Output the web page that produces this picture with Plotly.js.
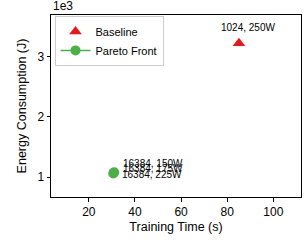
<!DOCTYPE html>
<html>
<head>
<meta charset="utf-8">
<script src="https://cdn.plot.ly/plotly-3.0.1.min.js"></script>
<style>html,body{margin:0;padding:0;background:#fff;}#chart{width:306px;height:244px;}</style>
</head>
<body>
<div id="chart"></div>
<script>
// Data
const baselineTime = [85.1];
const baselineEnergy = [3220];
const baselineLabels = ['1024, 250W'];

const paretoTime = [31.0, 30.8, 30.6];
const paretoEnergy = [1080, 1070, 1060];
const paretoLabels = ['16384, 150W', '16384, 175W', '16384, 225W'];

const xTickVals = [20, 40, 60, 80, 100];
const yTickVals = [1000, 2000, 3000];
const yTickText = ['1', '2', '3'];

// Styles (label offsets in px)
const baselineShift = [{x: 9, y: 16}];
const paretoShift = [{x: 7, y: 9}, {x: 7, y: 4}, {x: 7, y: -1}];

const FONT = 'Liberation Sans, Arial, sans-serif';
const RED = '#e41a1c';
const GREEN = '#4daf4a';

const traces = [
  {
    x: baselineTime, y: baselineEnergy, type: 'scatter', mode: 'markers',
    name: 'Baseline',
    marker: {symbol: 'triangle-up', size: 11, color: RED}
  },
  {
    x: paretoTime, y: paretoEnergy, type: 'scatter', mode: 'lines+markers',
    name: 'Pareto Front',
    line: {color: GREEN, width: 1.5},
    marker: {symbol: 'circle', size: 10, color: GREEN}
  }
];

const annotations = [];
baselineLabels.forEach((t, i) => annotations.push({
  x: baselineTime[i], y: baselineEnergy[i], xref: 'x', yref: 'y', text: t,
  showarrow: false, xanchor: 'center', yanchor: 'middle',
  xshift: baselineShift[i].x, yshift: baselineShift[i].y,
  font: {family: FONT, size: 10, color: '#000'}
}));
paretoLabels.forEach((t, i) => annotations.push({
  x: paretoTime[i], y: paretoEnergy[i], xref: 'x', yref: 'y', text: t,
  showarrow: false, xanchor: 'left', yanchor: 'middle',
  xshift: paretoShift[i].x, yshift: paretoShift[i].y,
  font: {family: FONT, size: 10, color: '#000'}
}));
annotations.push({
  x: 0, y: 1, xref: 'paper', yref: 'paper', text: '1e3', showarrow: false,
  xanchor: 'left', yanchor: 'bottom', yshift: 0,
  font: {family: FONT, size: 12, color: '#000'}
});

const axisCommon = {
  showline: true, linecolor: '#000', linewidth: 1, mirror: true,
  ticks: 'outside', ticklen: 3.5, tickwidth: 1, tickcolor: '#000',
  showgrid: false, zeroline: false,
  tickfont: {family: FONT, size: 12, color: '#000'}
};

const layout = {
  width: 306, height: 244,
  margin: {l: 51, r: 5, t: 15, b: 47},
  paper_bgcolor: '#fff', plot_bgcolor: '#fff',
  font: {family: FONT, color: '#000'},
  showlegend: true,
  legend: {
    x: 0.014, y: 0.995, xanchor: 'left', yanchor: 'top',
    bgcolor: '#fff', bordercolor: '#cccccc', borderwidth: 1,
    font: {family: FONT, size: 11, color: '#000'},
    tracegroupgap: 0, itemwidth: 30
  },
  xaxis: Object.assign({}, axisCommon, {
    range: [3.6, 112], tickvals: xTickVals,
    title: {text: 'Training Time (s)', font: {family: FONT, size: 12.5, color: '#000'}, standoff: 4}
  }),
  yaxis: Object.assign({}, axisCommon, {
    range: [670, 3690], tickvals: yTickVals, ticktext: yTickText,
    title: {text: 'Energy Consumption (J)', font: {family: FONT, size: 12.5, color: '#000'}, standoff: 8}
  }),
  annotations: annotations
};

Plotly.newPlot('chart', traces, layout, {displayModeBar: false, staticPlot: true});
</script>
</body>
</html>
